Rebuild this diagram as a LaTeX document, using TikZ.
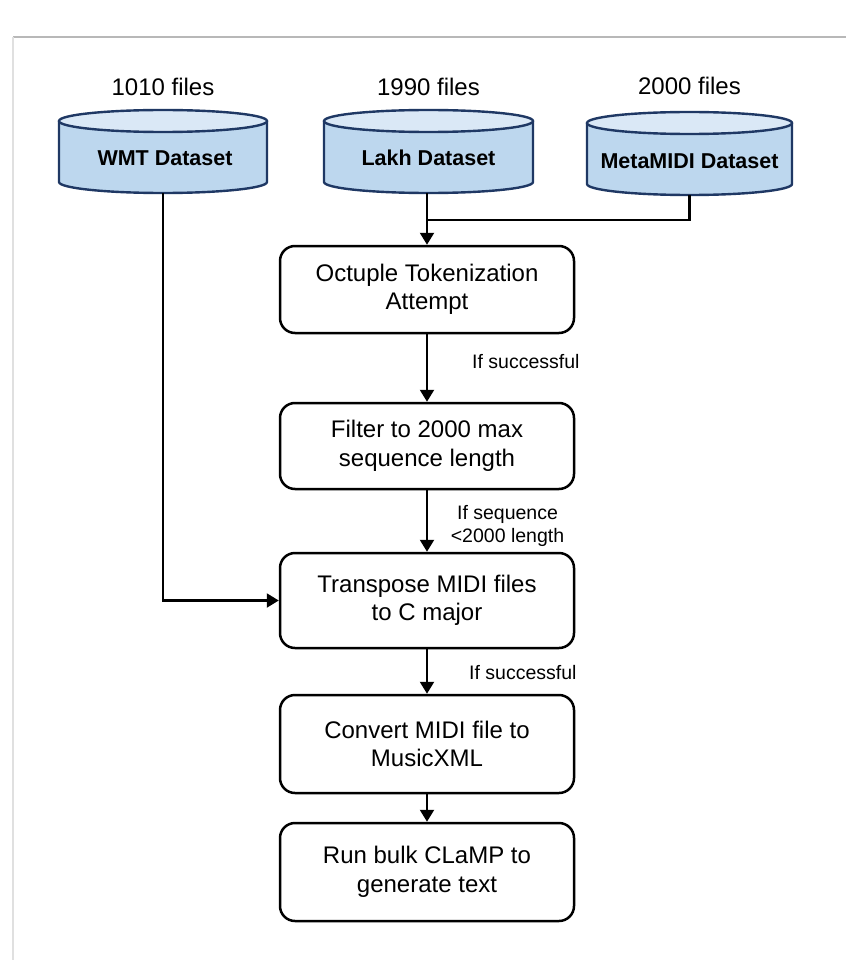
\documentclass[tikz,border=0pt]{standalone}
\usepackage{fontspec}
\setmainfont{Liberation Sans}
\usetikzlibrary{arrows.meta,calc}
\definecolor{cylline}{HTML}{1F3864}
\definecolor{cylbody}{HTML}{BDD7EE}
\definecolor{cyltop}{HTML}{DAE8F6}
\newcommand{\drawcyl}[4]{%
  \fill[cylbody] (#1-#4,#2) -- (#1-#4,#3) arc[start angle=180,end angle=0,x radius=#4,y radius=11] -- (#1+#4,#2) -- cycle;
  \draw[cylline,line width=2.4pt] (#1-#4,#2) -- (#1-#4,#3) arc[start angle=180,end angle=0,x radius=#4,y radius=11] -- (#1+#4,#2);
  \draw[cylline,fill=cyltop,line width=2.4pt] (#1,#2) ellipse[x radius=#4,y radius=11];
}
\begin{document}
\begin{tikzpicture}[x=1pt,y=-1pt,
  procbox/.style={draw=black,line width=2.5pt,rounded corners=15pt,minimum width=294pt,align=center,inner sep=0pt,font=\fontsize{24}{28.5}\selectfont},
  cylnode/.style={inner sep=0pt,minimum height=83pt},
  cyltext/.style={font=\fontsize{21.5}{25}\selectfont\bfseries,inner sep=0pt},
  countlbl/.style={font=\fontsize{24}{28}\selectfont,inner sep=0pt},
  edgelbl/.style={font=\fontsize{19.5}{23}\selectfont,inner sep=0pt,align=center},
  plainline/.style={draw=black,line width=2.2pt},
  conn/.style={plainline,-{Triangle[length=12pt,width=14pt]}}]
\useasboundingbox (0,0) rectangle (846,960);
\fill[white] (0,0) rectangle (846,960);
% frame
\draw[black!28,line width=1.3pt] (13,37) -- (846,37);
\draw[black!12,line width=1.5pt] (13,37) -- (13,960);

% cylinders
\drawcyl{163}{121}{182}{104}
\drawcyl{428.5}{121}{182}{104.5}
\drawcyl{689.5}{123}{184}{102.5}
\node[cylnode,minimum width=208pt] (wmt) at (163,151.5) {};
\node[cylnode,minimum width=209pt] (lakh) at (428.5,151.5) {};
\node[cylnode,minimum width=205pt] (meta) at (689.5,153.5) {};
\node[cyltext] (wmtT) at (165,158) {WMT Dataset};
\node[cyltext] (lakhT) at (428.5,158) {Lakh Dataset};
\node[cyltext] (metaT) at (689.5,161) {MetaMIDI Dataset};
\node[countlbl] (wmtN) at (163,87) {1010 files};
\node[countlbl] (lakhN) at (428.5,87) {1990 files};
\node[countlbl] (metaN) at (689.5,86) {2000 files};

% process boxes
\node[procbox,minimum height=87pt] (oct) at (427,289.5) {Octuple Tokenization\\Attempt};
\node[procbox,minimum height=86pt] (filt) at (427,446) {Filter to 2000 max\\sequence length};
\node[procbox,minimum height=95pt] (trans) at (427,600.5) {Transpose MIDI files\\to C major};
\node[procbox,minimum height=98pt] (conv) at (427,744) {Convert MIDI file to\\MusicXML};
\node[procbox,minimum height=98pt] (run) at (427,872) {Run bulk CLaMP to\\generate text};

% connectors
\coordinate (merge) at (427,220);
\draw[plainline] (meta.south) |- (merge);
\draw[conn] (oct.north |- lakh.south) -- (oct.north);
\draw[conn] (oct.south) -- (filt.north);
\draw[conn] (filt.south) -- (trans.north);
\draw[conn] (trans.south) -- (conv.north);
\draw[conn] (conv.south) -- (run.north);
\draw[conn] (wmt.south) |- (trans.west);

% edge labels
\node[edgelbl,anchor=west] (l1) at (472,362) {If successful};
\node[edgelbl] (l2) at (507.5,525.5) {If sequence\\<2000 length};
\node[edgelbl,anchor=west] (l3) at (469,673) {If successful};
\end{tikzpicture}
\end{document}
